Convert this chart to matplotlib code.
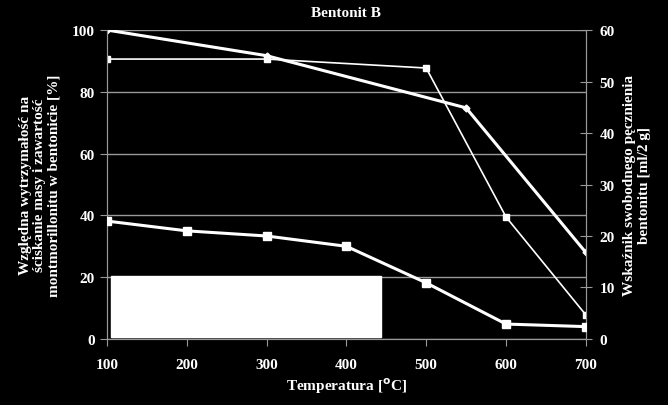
import matplotlib
matplotlib.use("Agg")
import matplotlib.pyplot as plt
from matplotlib.patches import Rectangle

# values
temp_mont = [100, 300, 550, 700]
montmorillonit = [100, 91.7, 74.8, 28.0]          # left axis [%]

temp_str = [100, 300, 500, 600, 700]
wytrzymalosc = [90.6, 90.6, 87.7, 39.5, 7.8]      # left axis [%]

temp_swell = [100, 200, 300, 400, 500, 600, 700]
pecznienie = [22.9, 21.0, 20.0, 18.0, 10.9, 2.9, 2.4]  # right axis [ml/2 g]

left_ticks = [0, 20, 40, 60, 80, 100]
right_ticks = [0, 10, 20, 30, 40, 50, 60]
x_ticks = [100, 200, 300, 400, 500, 600, 700]

plt.rcParams["font.family"] = ["Liberation Serif", "DejaVu Serif"]
plt.rcParams["font.weight"] = "bold"
plt.rcParams["mathtext.default"] = "bf"
fg = "white"
grid_c = "#999999"
fs = 11

fig = plt.figure(figsize=(6.68, 4.06), dpi=100, facecolor="black")
ax = fig.add_axes([0.160, 0.1626, 0.717, 0.761], facecolor="black")
ax2 = ax.twinx()

ax.plot(temp_mont, montmorillonit, color=fg, lw=2.2, marker="D", ms=3.5, zorder=3)
ax.plot(temp_str, wytrzymalosc, color=fg, lw=1.2, marker="s", ms=4, zorder=3)
ax2.plot(temp_swell, pecznienie, color=fg, lw=2.2, marker="s", ms=6, zorder=3)

ax.set_xlim(100, 700)
ax.set_ylim(0, 100)
ax2.set_ylim(0, 60)
ax.set_xticks(x_ticks)
ax.set_yticks(left_ticks)
ax2.set_yticks(right_ticks)
ax.yaxis.grid(True, color=grid_c, lw=1)
ax.set_axisbelow(True)

for a in (ax, ax2):
    for s in a.spines.values():
        s.set_color(grid_c)
    a.spines["top"].set_visible(False)
    a.tick_params(colors=grid_c, labelcolor=fg, labelsize=fs, length=5)
    for lab in a.get_xticklabels() + a.get_yticklabels():
        lab.set_fontweight("bold")
ax.tick_params(axis="x", pad=9)
ax2.tick_params(axis="y", direction="inout", length=8, pad=6)

# blank white box over the lower-left part of the plot
ax.add_patch(Rectangle((0.008, 0.006), 0.565, 0.198, transform=ax.transAxes,
                       facecolor="white", edgecolor="white", zorder=5))

ax.set_title("Bentonit B", color=fg, fontsize=fs, fontweight="bold", pad=10)
ax.set_xlabel("Temperatura [$^o$C]", color=fg, fontsize=fs, fontweight="bold", labelpad=3)
ax.set_ylabel("Względna wytrzymałość na\nściskanie masy i zawartość\nmontmorillonitu w bentonicie [%]",
              color=fg, fontsize=fs, fontweight="bold", labelpad=8, linespacing=1.15)
ax2.set_ylabel("Wskaźnik swobodnego pęcznienia\nbentonitu [ml/2 g]", rotation=90,
               color=fg, fontsize=fs, fontweight="bold", labelpad=6, linespacing=1.15)

fig.savefig("out.png", dpi=100, facecolor="black")
